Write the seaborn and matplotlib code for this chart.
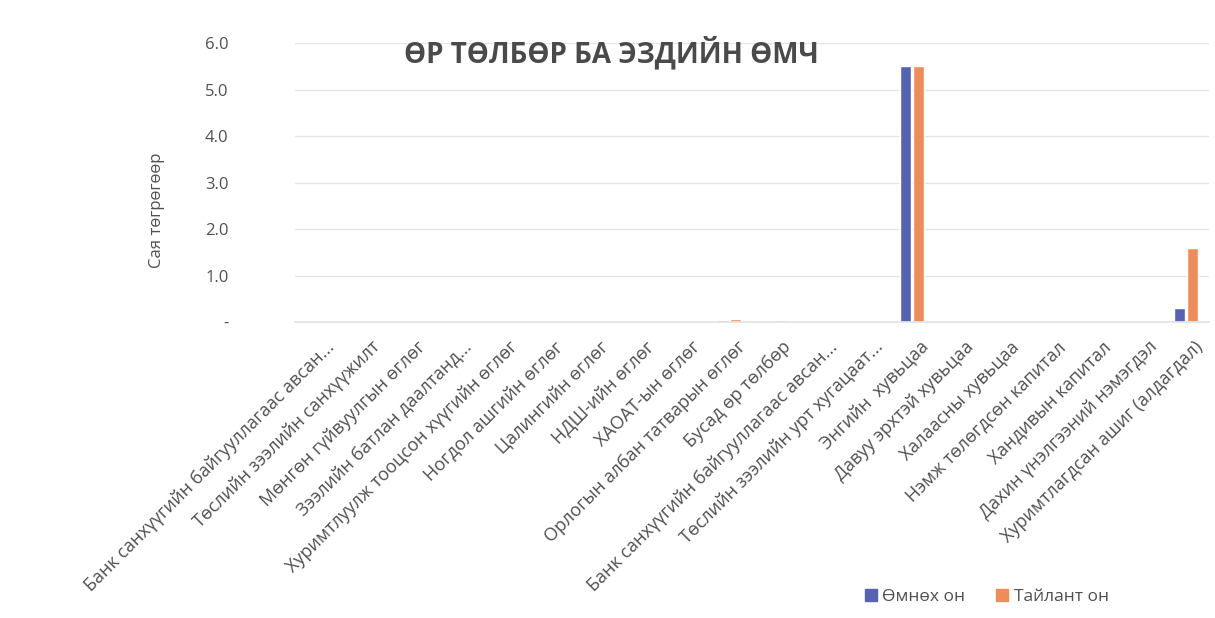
import matplotlib
matplotlib.use("Agg")
import matplotlib.pyplot as plt
import matplotlib.ticker as mticker
import pandas as pd
import seaborn as sns

categories = [
    "Банк санхүүгийн байгууллагаас авсан...",
    "Төслийн зээлийн санхүүжилт",
    "Мөнгөн гүйвуулгын өглөг",
    "Зээлийн батлан даалтанд...",
    "Хуримтлуулж тооцсон хүүгийн өглөг",
    "Ногдол ашгийн өглөг",
    "Цалингийн өглөг",
    "НДШ-ийн өглөг",
    "ХАОАТ-ын өглөг",
    "Орлогын албан татварын өглөг",
    "Бусад өр төлбөр",
    "Банк санхүүгийн байгууллагаас авсан...",
    "Төслийн зээлийн урт хугацаат...",
    "Энгийн  хувьцаа",
    "Давуу эрхтэй хувьцаа",
    "Халаасны хувьцаа",
    "Нэмж төлөгдсөн капитал",
    "Хандивын капитал",
    "Дахин үнэлгээний нэмэгдэл",
    "Хуримтлагдсан ашиг (алдагдал)",
]
prev_year = [0, 0, 0, 0, 0, 0, 0, 0, 0, 0.04, 0.03, 0, 0, 5.5, 0, 0, 0, 0, 0, 0.3]
report_year = [0, 0, 0, 0, 0, 0, 0, 0, 0, 0.07, 0.05, 0, 0, 5.5, 0, 0, 0, 0, 0, 1.6]
series_names = ["Өмнөх он", "Тайлант он"]

# long table; index keeps duplicate category names apart
rows = []
for i, cat in enumerate(categories):
    rows.append({"idx": i, "series": series_names[0], "value": prev_year[i]})
    rows.append({"idx": i, "series": series_names[1], "value": report_year[i]})
df = pd.DataFrame(rows)

sns.set_theme(style="white")
plt.rcParams["font.family"] = ["Open Sans", "DejaVu Sans"]

grey = "#505050"
palette = {series_names[0]: "#5563B0", series_names[1]: "#EE8D5C"}

fig = plt.figure(figsize=(12.15, 6.18), dpi=100)
ax = fig.add_axes([0.243, 0.479, 0.752, 0.451])

sns.barplot(data=df, x="idx", y="value", hue="series", palette=palette,
            width=0.55, gap=0.12, saturation=1, ax=ax, legend=False)

ax.set_ylim(0, 6)
ax.set_xlim(-0.5, len(categories) - 0.5)
ax.yaxis.set_major_locator(mticker.MultipleLocator(1))
ax.yaxis.set_major_formatter(
    mticker.FuncFormatter(lambda v, p: "-" if abs(v) < 1e-9 else f"{v:.1f}"))
ax.grid(axis="y", color="#e4e4e4", linewidth=0.9)
ax.set_axisbelow(True)
for s in ["top", "right", "left"]:
    ax.spines[s].set_visible(False)
ax.spines["bottom"].set_color("#e4e4e4")

# Excel puts the rotated label ends a bit right of the category centre
label_offset = 0.3
ax.set_xticks([i + label_offset for i in range(len(categories))])
ax.set_xticklabels(categories, rotation=45, ha="right", va="center",
                   rotation_mode="anchor", fontsize=13, color=grey)
ax.set_xlim(-0.5, len(categories) - 0.5)
ax.tick_params(axis="x", length=0, pad=16)
ax.tick_params(axis="y", length=0, pad=48, labelsize=12, labelcolor=grey)
ax.set_xlabel("")
ax.set_ylabel("Сая төгрөгөөр", fontsize=12, color=grey)
ax.yaxis.set_label_coords(-0.143, 0.40)

fig.text(0.503, 0.915, "ӨР ТӨЛБӨР БА ЭЗДИЙН ӨМЧ", ha="center", va="center",
         fontsize=20, fontweight="bold", color="#4a4a4a")

handles = [plt.Rectangle((0, 0), 1, 1, color=palette[n]) for n in series_names]
fig.legend(handles, series_names, loc="center", bbox_to_anchor=(0.812, 0.034),
           ncol=2, frameon=False, fontsize=12.5, labelcolor=grey,
           handlelength=0.7, handleheight=0.7, handletextpad=0.3, columnspacing=1.8)

fig.savefig("out.png", dpi=100, facecolor="white")
